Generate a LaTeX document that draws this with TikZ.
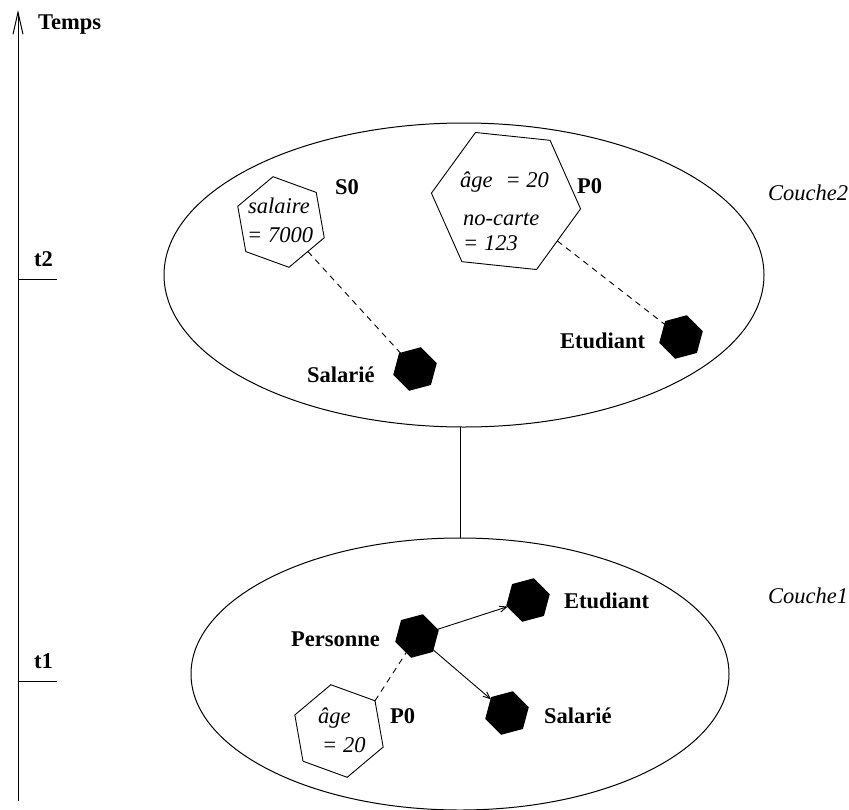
\documentclass[tikz,border=0pt]{standalone}
\usepackage{fontspec}
\setmainfont{Liberation Serif}
\usetikzlibrary{shapes.geometric,arrows.meta}
\begin{document}
\begin{tikzpicture}[x=1pt,y=-1pt,
  lbl/.style={font=\fontsize{22.5}{27}\selectfont\bfseries, anchor=base west, inner sep=0},
  itx/.style={font=\fontsize{22.5}{27}\selectfont\itshape, anchor=base west, inner sep=0},
  layer/.style={ellipse, draw, line width=1pt, inner sep=0, outer sep=0},
  hexa/.style={regular polygon, regular polygon sides=6, inner sep=0, outer sep=0, draw, line width=0.9pt},
  obj/.style={hexa, fill=white},
  cls/.style={hexa, fill=black, minimum size=44pt, rotate=15},
  link/.style={line width=0.9pt, dash pattern=on 6pt off 5pt},
  isa/.style={line width=0.9pt, -{Straight Barb[length=7pt,width=6pt]}},
  axis/.style={line width=1pt}]
\useasboundingbox (0,0) rectangle (849,809);

% time axis with its two instants
\coordinate (tb) at (18,801);
\coordinate (tt) at (18,10);
\draw[axis, -{Straight Barb[length=22pt,width=10pt]}] (tb) -- (tt);
\node[lbl] (temps) at (38,29.5) {Temps};
\coordinate (t2a) at (18,279);
\coordinate (t2b) at (57,279);
\draw[axis] (t2a) -- (t2b);
\node[lbl] (t2) at (34,266) {t2};
\coordinate (t1a) at (18,681);
\coordinate (t1b) at (57,681);
\draw[axis] (t1a) -- (t1b);
\node[lbl] (t1) at (34,668) {t1};

% the two layers
\node[layer, minimum width=600pt, minimum height=304pt] (c2) at (464,275) {};
\node[layer, minimum width=538pt, minimum height=272pt] (c1) at (460,674) {};
\draw[axis] (c1.north |- c2.south) -- (c1.north);
\node[itx] (couche2) at (768,200) {Couche2};
\node[itx] (couche1) at (768,603) {Couche1};

% upper layer: instances and classes
\node[obj, minimum size=92pt, rotate=40] (s0) at (281,222) {};
\node[itx] at (248,213) {salaire};
\node[itx] at (247,242) {= 7000};
\node[lbl] (s0l) at (335,194) {S0};

\node[obj, minimum size=150pt, rotate=-6] (p0u) at (506,201) {};
\node[itx] at (460,187) {âge\hspace{13pt}= 20};
\node[itx] at (463,225) {no-carte};
\node[itx] at (463,250) {= 123};
\node[lbl] (p0ul) at (577,193) {P0};

\node[cls] (salU) at (415,369) {};
\node[lbl] at (307,382) {Salarié};
\node[cls] (etuU) at (681,337) {};
\node[lbl] at (560,348) {Etudiant};

\draw[link] (s0) -- (salU);
\draw[link] (p0u) -- (etuU);

% lower layer: class hierarchy and one instance
\node[cls] (pers) at (417,636) {};
\node[lbl] at (291,646) {Personne};
\node[cls] (etuL) at (528,600) {};
\node[lbl] at (564,608) {Etudiant};
\node[cls] (salL) at (507,713) {};
\node[lbl] at (544,723) {Salarié};

\node[obj, minimum size=94pt, rotate=40] (p0l) at (339,731) {};
\node[itx] at (318,723) {âge};
\node[itx] at (322,752) {= 20};
\node[lbl] (p0ll) at (390,723) {P0};

\draw[isa] (pers) -- (etuL);
\draw[isa] (pers) -- (salL);
\draw[link] (p0l.0) -- (pers);
\end{tikzpicture}
\end{document}
